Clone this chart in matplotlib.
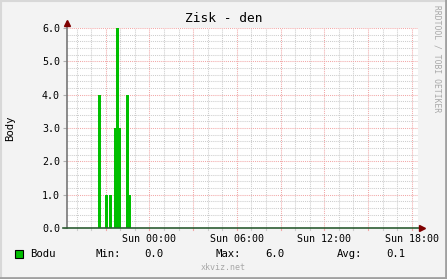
import matplotlib
matplotlib.use("Agg")
import matplotlib.pyplot as plt
import matplotlib.transforms as mtransforms
from matplotlib.lines import Line2D

# hours relative to Sun 00:00
seg_start = [-3.55, -3.07, -2.79, -2.45, -2.31, -2.11, -1.63, -1.42]
seg_end = [-3.34, -2.88, -2.59, -2.31, -2.11, -1.92, -1.42, -1.30]
seg_value = [4.0, 1.0, 1.0, 3.0, 6.0, 3.0, 4.0, 1.0]

x_ticks = [0, 6, 12, 18]
x_labels = ["Sun 00:00", "Sun 06:00", "Sun 12:00", "Sun 18:00"]
y_ticks = [0, 1, 2, 3, 4, 5, 6]
y_labels = ["0.0", "1.0", "2.0", "3.0", "4.0", "5.0", "6.0"]

stat_min, stat_max, stat_avg = "0.0", "6.0", "0.1"

MONO = "DejaVu Sans Mono"
W, H = 447, 279
MAJ = "#F2A8A8"
MIN = "#CDCDCD"


def fx(px):
    return px / W


def fy(py):
    return 1 - py / H


fig = plt.figure(figsize=(W / 100, H / 100), dpi=100, facecolor="#F3F3F3")
ax = fig.add_axes([fx(67), fy(228), 351 / W, 200 / H])
ax.set_facecolor("white")

xmin, xmax = -5.66, 18.43
ax.set_xlim(xmin, xmax)
ax.set_ylim(0, 6)

# grid, with short stubs below the x axis
bt = mtransforms.blended_transform_factory(ax.transData, ax.transAxes)
h = -5
while h <= 18:
    c = MAJ if h % 3 == 0 else MIN
    ax.axvline(h, color=c, lw=0.75, ls=(0, (1, 1)), zorder=1)
    ax.plot([h, h], [-0.012, 0], transform=bt, color=c, lw=0.8,
            clip_on=False, zorder=1)
    h += 1
for i in range(31):
    v = i * 0.2
    c = MAJ if i % 5 == 0 else MIN
    ax.axhline(v, color=c, lw=0.75, ls=(0, (1, 1)), zorder=1)

widths = [e - s for s, e in zip(seg_start, seg_end)]
ax.bar(seg_start, seg_value, width=widths, align="edge", color="#00BF00",
       linewidth=0, zorder=3)

for s in ax.spines.values():
    s.set_visible(False)
ax.set_xticks(x_ticks)
ax.set_xticklabels(x_labels, fontfamily=MONO, fontsize=7.2)
ax.set_yticks(y_ticks)
ax.set_yticklabels(y_labels, fontfamily=MONO, fontsize=7.2)
ax.tick_params(axis="y", length=3, width=0.8, color="#B0B0B0", pad=2)
ax.tick_params(axis="x", length=0, pad=4)

# axes lines and arrows
ax.plot([0, 0], [0, 1.03], transform=ax.transAxes, color="#777777", lw=1.2,
        clip_on=False, zorder=4)
ax.plot([-0.01, 1.01], [0, 0], transform=ax.transAxes, color="#2C5D33",
        lw=1.2, clip_on=False, zorder=4)
ax.plot([0], [1.025], transform=ax.transAxes, marker="^", color="#7F0000",
        markersize=5, clip_on=False, zorder=5)
ax.plot([1.012], [0], transform=ax.transAxes, marker=">", color="#7F0000",
        markersize=5, clip_on=False, zorder=5)

fig.text(0.5, fy(19), "Zisk - den", ha="center", va="center",
         fontfamily=MONO, fontsize=9.3)
fig.text(fx(10), fy(128), "Body", ha="center", va="center", rotation=90,
         fontfamily=MONO, fontsize=7.7)
fig.text(fx(437), fy(5), "RRDTOOL / TOBI OETIKER", ha="center", va="top",
         rotation=270, fontfamily=MONO, fontsize=5.8, color="#A8A8A8")
fig.text(0.5, fy(268), "xkviz.net", ha="center", va="center",
         fontfamily=MONO, fontsize=6, color="#A8A8A8")

# legend
fig.patches.append(plt.Rectangle((fx(15), fy(258)), 8 / W, 8 / H,
                                 transform=fig.transFigure,
                                 facecolor="#00BF00", edgecolor="black",
                                 lw=0.8))
ly = fy(254)
for px, txt in [(30, "Bodu"), (95, "Min:"), (144, stat_min), (216, "Max:"),
                (265, stat_max), (337, "Avg:"), (386, stat_avg)]:
    fig.text(fx(px), ly, txt, ha="left", va="center", fontfamily=MONO,
             fontsize=7.7)

# frame
fig.lines.append(Line2D([0, 1], [fy(0.5), fy(0.5)], transform=fig.transFigure,
                        color="#D8D8D8", lw=1.5))
fig.lines.append(Line2D([fx(0.5), fx(0.5)], [0, 1], transform=fig.transFigure,
                        color="#D8D8D8", lw=1.5))
fig.lines.append(Line2D([0, 1], [fy(278), fy(278)], transform=fig.transFigure,
                        color="#A0A0A0", lw=2))
fig.lines.append(Line2D([fx(446), fx(446)], [0, 1], transform=fig.transFigure,
                        color="#A0A0A0", lw=2))

fig.savefig("out.png", dpi=100, facecolor=fig.get_facecolor())
